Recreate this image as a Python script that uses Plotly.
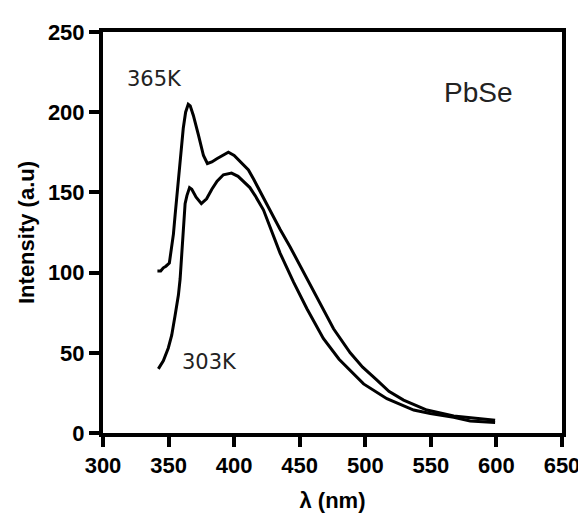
import plotly.graph_objects as go

# 365K spectrum
wl_365 = [341.5, 344, 346, 348, 350.6, 352.4, 353.7, 355.0, 356.3, 357.5, 358.8, 360.0, 361.2, 363.0, 365.0,
          366.5, 368.9, 372.7, 376.6, 379.6, 383.0, 386.8, 391.0, 395.6, 400.0, 404.6, 410.9, 415.0, 420.0,
          427.5, 435.0, 442.7, 452.9, 463.1, 475.8, 488.5, 498.0, 508.9, 518.0, 529.2, 547.0, 567.4, 585.0, 599.0]
int_365 = [101, 101, 103, 104, 106, 116, 124, 136, 147, 158, 169, 180, 190, 200, 205,
           204, 198, 186, 173, 168, 169, 171, 173, 175, 173, 169, 164, 158, 150,
           139, 127, 116, 100, 84, 65, 50, 41, 33, 26, 20.5, 14.3, 10.6, 9, 8]

# 303K spectrum
wl_303 = [342.2, 344, 346, 349.8, 352.4, 354.9, 357.5, 358.8, 360.1, 361.3, 362.6, 364.0, 366.0, 367.7,
          371.0, 375.0, 379.0, 383.0, 387.0, 391.8, 398.0, 403.0, 407.0, 412.0, 416.0, 422.4, 435.1, 445.3,
          455.5, 468.0, 480.0, 488.5, 498.7, 516.5, 536.9, 549.6, 567.4, 580.0, 599.0]
int_303 = [40, 42, 45, 53, 61, 73, 86, 96, 112, 130, 143, 148, 153, 152,
           147, 143, 146, 152, 157, 161, 162, 160, 157, 153, 148, 139, 112, 94,
           77.5, 59, 46, 38.7, 30.6, 21.4, 14.3, 12.2, 9.8, 7.5, 6.5]

x_ticks = [300, 350, 400, 450, 500, 550, 600, 650]
y_ticks = [0, 50, 100, 150, 200, 250]

fig = go.Figure()
fig.add_trace(go.Scatter(x=wl_365, y=int_365, mode="lines", name="365K",
                         line=dict(color="black", width=3)))
fig.add_trace(go.Scatter(x=wl_303, y=int_303, mode="lines", name="303K",
                         line=dict(color="black", width=3)))

fig.add_annotation(x=339, y=221, text="365K", showarrow=False, xref="x", yref="y",
                   font=dict(family="DejaVu Sans", size=21, color="#222222"))
fig.add_annotation(x=381, y=44, text="303K", showarrow=False, xref="x", yref="y",
                   font=dict(family="DejaVu Sans", size=21, color="#222222"))
fig.add_annotation(x=586, y=212, text="PbSe", showarrow=False, xref="x", yref="y",
                   font=dict(family="Liberation Sans", size=28, color="#222222"))

fig.update_layout(
    width=586, height=516,
    margin=dict(l=95, r=32, t=17, b=91),
    plot_bgcolor="white", paper_bgcolor="white",
    showlegend=False,
    font=dict(family="Liberation Sans", color="black"),
)
fig.update_xaxes(range=[300, 650], tickvals=x_ticks, ticktext=[f"<b>{v}</b>" for v in x_ticks],
                 showgrid=False, zeroline=False, showline=True, linecolor="black", linewidth=4,
                 mirror=True, ticks="outside", ticklen=10, tickwidth=4, tickcolor="black",
                 tickfont=dict(size=22, family="Liberation Sans", color="black"),
                 title=dict(text="<b>λ (nm)</b>", font=dict(size=22, family="Liberation Sans"), standoff=16))
fig.update_yaxes(range=[0, 250], tickvals=y_ticks, ticktext=[f"<b>{v}</b>" for v in y_ticks],
                 showgrid=False, zeroline=False, showline=True, linecolor="black", linewidth=4,
                 mirror=True, ticks="outside", ticklen=10, tickwidth=4, tickcolor="black",
                 tickfont=dict(size=22, family="Liberation Sans", color="black"),
                 title=dict(text="<b>Intensity (a.u)</b>", font=dict(size=22, family="Liberation Sans"), standoff=8))

fig.write_html("out.html")
